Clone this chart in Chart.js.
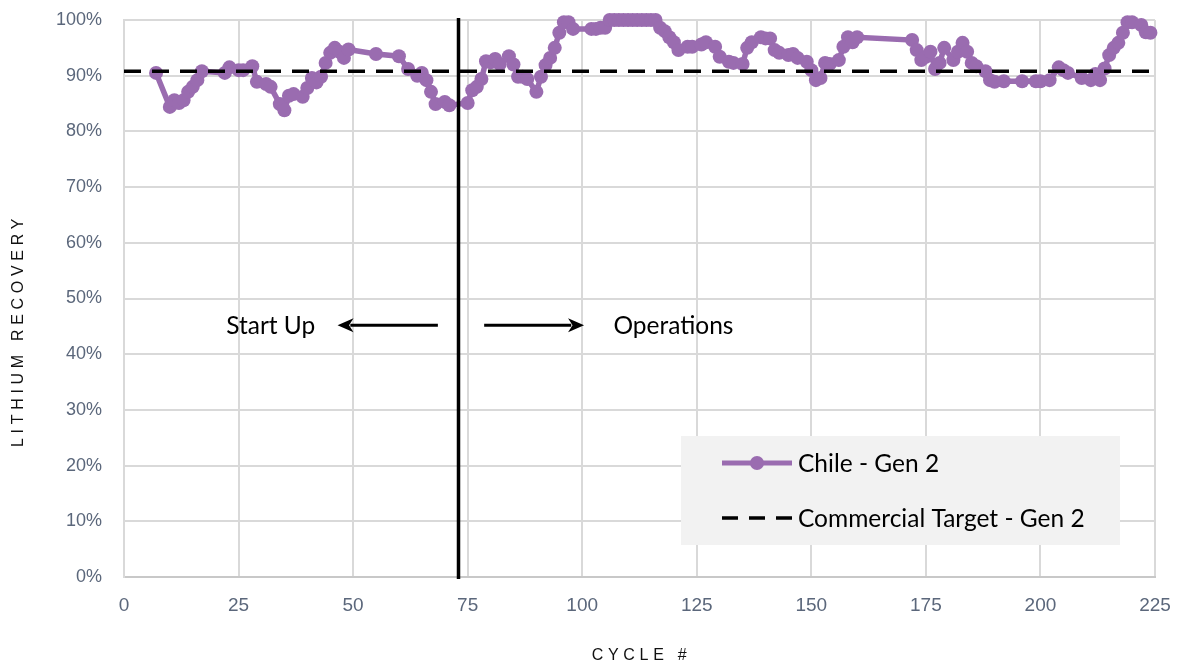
<!DOCTYPE html>
<html>
<head>
<meta charset="utf-8">
<title>Lithium Recovery by Cycle</title>
<script src="https://cdn.jsdelivr.net/npm/chart.js@4.4.1/dist/chart.umd.min.js"></script>
<style>
  html, body { margin: 0; padding: 0; background: #ffffff; }
  #wrap { width: 1178px; height: 665px; }
</style>
</head>
<body>
<div id="wrap"><canvas id="chart" width="1178" height="665"></canvas></div>
<script>
// Cycle numbers and lithium recovery (%) for the Chile Gen 2 unit
const cycles = [
  7, 10, 11, 12, 13, 14, 15, 16, 17, 22, 23, 25, 26, 28, 29, 31, 32, 34, 35, 36,
  37, 39, 40, 41, 42, 43, 44, 45, 46, 47, 48, 49, 55, 60, 62, 64, 65, 66, 67, 68,
  70, 71, 75, 76, 77, 78, 79, 80, 81, 82, 84, 85, 86, 87, 88, 90, 91, 92, 93, 94,
  95, 96, 97, 98, 102, 103, 104, 105, 106, 107, 108, 109, 110, 111, 112, 113, 114, 115, 116, 117,
  118, 119, 120, 121, 123, 124, 126, 127, 129, 130, 132, 133, 135, 136, 137, 139, 140, 141, 142, 143,
  145, 146, 147, 149, 150, 151, 152, 153, 154, 156, 157, 158, 159, 160, 172, 173, 174, 175, 176, 177,
  178, 179, 181, 182, 183, 184, 185, 186, 188, 189, 190, 192, 196, 199, 200, 202, 204, 205, 206, 209,
  211, 212, 213, 214, 215, 216, 217, 218, 219, 220, 222, 223, 224
];
const recovery = [
  90.5, 84.4, 85.6, 85.1, 85.6, 87.1, 88.0, 89.2, 90.8, 90.5, 91.5, 91.0, 91.0, 91.7, 88.9, 88.5, 88.0, 84.9, 83.8, 86.4,
  86.7, 86.2, 87.8, 89.6, 88.8, 89.8, 92.3, 94.1, 95.0, 94.3, 93.2, 94.7, 93.9, 93.5, 91.2, 90.0, 90.5, 89.2, 87.1, 84.9,
  85.3, 84.7, 85.1, 87.4, 88.0, 89.4, 92.6, 92.4, 93.0, 92.1, 93.5, 92.0, 89.8, 89.8, 89.4, 87.1, 89.8, 91.9, 93.2, 95.0,
  97.7, 99.6, 99.6, 98.4, 98.4, 98.4, 98.6, 98.6, 100, 100, 100, 100, 100, 100, 100, 100, 100, 100, 100, 98.6,
  98.0, 96.9, 96.0, 94.6, 95.2, 95.2, 95.6, 96.0, 95.2, 93.4, 92.5, 92.3, 92.1, 95.0, 96.0, 96.9, 96.7, 96.7, 94.6, 94.1,
  93.7, 93.9, 93.2, 92.5, 91.0, 89.2, 89.6, 92.3, 92.1, 92.8, 95.2, 96.9, 96.0, 96.9, 96.4, 94.6, 92.8, 93.4, 94.3, 91.2,
  92.3, 95.0, 92.8, 94.3, 95.9, 94.3, 92.3, 91.7, 90.8, 89.2, 88.9, 89.0, 89.0, 89.0, 89.0, 89.2, 91.5, 91.0, 90.5, 89.6,
  89.2, 90.3, 89.2, 91.3, 93.7, 95.0, 95.9, 97.7, 99.6, 99.6, 99.1, 97.8, 97.7
];

// Commercial target, drawn across the full cycle range
const targetRecovery = 90.8;
const cycleRange = [0, 225];

// Start-up / operations boundary
const phaseBoundaryCycle = 73;

// Axis ticks and labels
const yTicks = [0, 10, 20, 30, 40, 50, 60, 70, 80, 90, 100];
const xTicks = [0, 25, 50, 75, 100, 125, 150, 175, 200, 225];
const seriesLabels = ['Chile - Gen 2', 'Commercial Target - Gen 2'];
const axisTitles = { x: 'CYCLE #', y: 'LITHIUM RECOVERY' };
const phaseLabels = ['Start Up', 'Operations'];

const PURPLE = '#9a6cb0';
const TICK_COLOR = '#5b677b';
const GRID_COLOR = '#d9d9d9';
const CALLOUT_FONT = 'Lato, "Noto Sans", "Liberation Sans", sans-serif';

const chilePoints = cycles.map((c, i) => ({ x: c, y: recovery[i] }));
const targetPoints = cycleRange.map(c => ({ x: c, y: targetRecovery }));

function arrow(ctx, x1, y, x2) {
  // shaft from x1 to the head, head pointing at x2
  const dir = Math.sign(x2 - x1);
  const headLen = 16, headHalf = 7;
  ctx.beginPath();
  ctx.moveTo(x1, y);
  ctx.lineTo(x2 - dir * headLen * 0.8, y);
  ctx.stroke();
  ctx.beginPath();
  ctx.moveTo(x2, y);
  ctx.lineTo(x2 - dir * headLen, y - headHalf);
  ctx.lineTo(x2 - dir * headLen * 0.72, y);
  ctx.lineTo(x2 - dir * headLen, y + headHalf);
  ctx.closePath();
  ctx.fill();
}

// keep the plot rectangle fixed: no extra room reserved for edge labels
function noEdgePadding(scale) {
  scale.paddingLeft = 0;
  scale.paddingRight = 0;
  scale.paddingTop = 0;
  scale.paddingBottom = 0;
}

const overlays = {
  id: 'overlays',
  afterDatasetsDraw(chart) {
    const { ctx, chartArea, scales } = chart;
    const xs = scales.x, ys = scales.y;
    ctx.save();

    // phase boundary
    const bx = xs.getPixelForValue(phaseBoundaryCycle);
    ctx.strokeStyle = '#000000';
    ctx.lineWidth = 3.5;
    ctx.beginPath();
    ctx.moveTo(bx, chartArea.top - 2);
    ctx.lineTo(bx, chartArea.bottom + 2);
    ctx.stroke();

    // phase callouts with arrows
    const ay = ys.getPixelForValue(45.2);
    ctx.fillStyle = '#000000';
    ctx.lineWidth = 2.8;
    arrow(ctx, xs.getPixelForValue(68.5), ay, xs.getPixelForValue(46.6));
    arrow(ctx, xs.getPixelForValue(78.6), ay, xs.getPixelForValue(100.4));
    ctx.font = '24.5px ' + CALLOUT_FONT;
    ctx.textBaseline = 'middle';
    ctx.textAlign = 'left';
    ctx.fillText(phaseLabels[0], xs.getPixelForValue(22.3), ay + 1);
    ctx.fillText(phaseLabels[1], xs.getPixelForValue(106.8), ay + 1);

    // legend panel
    const lx = chartArea.right - 474, ly = chartArea.bottom - 141;
    const lw = 439, lh = 109;
    ctx.fillStyle = '#f2f2f2';
    ctx.fillRect(lx, ly, lw, lh);

    const sx = lx + 41, ex = lx + 111;
    const r1 = ly + 27, r2 = ly + 82;
    ctx.strokeStyle = PURPLE;
    ctx.lineWidth = 5;
    ctx.beginPath();
    ctx.moveTo(sx, r1);
    ctx.lineTo(ex, r1);
    ctx.stroke();
    ctx.fillStyle = PURPLE;
    ctx.beginPath();
    ctx.arc((sx + ex) / 2, r1, 7, 0, Math.PI * 2);
    ctx.fill();

    ctx.strokeStyle = '#000000';
    ctx.lineWidth = 3.5;
    ctx.setLineDash([16, 11]);
    ctx.beginPath();
    ctx.moveTo(sx, r2);
    ctx.lineTo(ex, r2);
    ctx.stroke();
    ctx.setLineDash([]);

    ctx.fillStyle = '#000000';
    ctx.font = '24.5px ' + CALLOUT_FONT;
    ctx.fillText(seriesLabels[0], ex + 6, r1 + 1);
    ctx.fillText(seriesLabels[1], ex + 6, r2 + 1);

    // axis titles
    ctx.font = '16px "Liberation Sans", Arial, sans-serif';
    ctx.fillStyle = '#111111';
    ctx.textAlign = 'center';
    ctx.letterSpacing = '4.7px';
    ctx.fillText(axisTitles.x, (chartArea.left + chartArea.right) / 2 + 2, 656);
    ctx.save();
    ctx.translate(19, (chartArea.top + chartArea.bottom) / 2 + 32);
    ctx.rotate(-Math.PI / 2);
    ctx.fillText(axisTitles.y, 0, 0);
    ctx.restore();
    ctx.letterSpacing = '0px';

    ctx.restore();
  }
};

new Chart(document.getElementById('chart'), {
  type: 'scatter',
  data: {
    datasets: [
      {
        label: seriesLabels[1],
        data: targetPoints,
        showLine: true,
        borderColor: '#000000',
        borderWidth: 3.5,
        borderDash: [17, 11],
        pointRadius: 0,
        order: 0
      },
      {
        label: seriesLabels[0],
        data: chilePoints,
        showLine: true,
        borderColor: PURPLE,
        backgroundColor: PURPLE,
        borderWidth: 5.5,
        pointRadius: 7,
        pointBorderWidth: 0,
        pointBackgroundColor: PURPLE,
        order: 1,
        clip: 10
      }
    ]
  },
  options: {
    responsive: false,
    animation: false,
    devicePixelRatio: 1,
    layout: { autoPadding: false, padding: { top: 20, right: 23, left: 0, bottom: 0 } },
    plugins: {
      legend: { display: false },
      tooltip: { enabled: false }
    },
    scales: {
      x: {
        type: 'linear',
        min: cycleRange[0],
        max: cycleRange[1],
        afterBuildTicks(scale) { scale.ticks = xTicks.map(v => ({ value: v })); },
        afterFit(scale) { scale.height = 88; noEdgePadding(scale); },
        ticks: {
          color: TICK_COLOR,
          font: { family: '"Liberation Sans", Arial, sans-serif', size: 19 },
          padding: 17,
          maxRotation: 0
        },
        grid: { color: GRID_COLOR, lineWidth: 2, drawTicks: false },
        border: { color: '#c8c8c8', width: 2 }
      },
      y: {
        min: 0,
        max: 100,
        afterBuildTicks(scale) { scale.ticks = yTicks.map(v => ({ value: v })); },
        afterFit(scale) { scale.width = 124; noEdgePadding(scale); },
        ticks: {
          color: TICK_COLOR,
          font: { family: '"Liberation Sans", Arial, sans-serif', size: 18 },
          padding: 22,
          callback: v => v + '%'
        },
        grid: { color: GRID_COLOR, lineWidth: 2, drawTicks: false },
        border: { color: GRID_COLOR, width: 2 }
      }
    }
  },
  plugins: [overlays]
});
</script>
</body>
</html>
